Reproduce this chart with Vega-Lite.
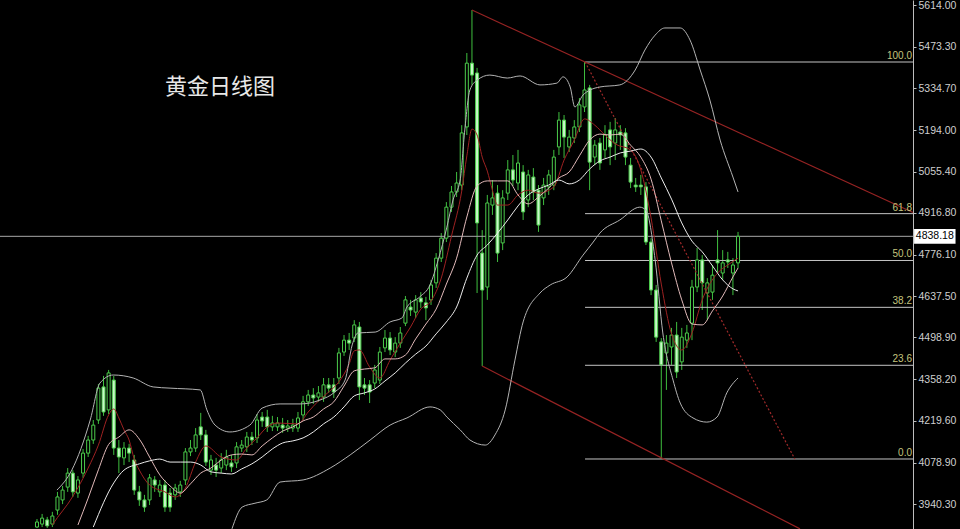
{
"$schema":"https://vega.github.io/schema/vega-lite/v6.json",
"width":913,"height":529,
"autosize":{"type":"none"},
"padding":{"left":0,"top":0,"right":47,"bottom":0},
"background":"#000000",
"config":{"view":{"stroke":null},"axis":{"grid":false},
"axisY":{"orient":"right","title":null,"labelColor":"#cfcfcf","labelFont":"Liberation Sans","labelFontSize":10.5,"tickColor":"#bdbdbd","tickSize":3,"domainColor":"#bdbdbd","labelPadding":2,"grid":false}},
"datasets":{
"c":[
{"i":0,"o":3863,"h":3890,"l":3860,"c":3880},{"i":1,"o":3873,"h":3907,"l":3863,"c":3893},{"i":2,"o":3887,"h":3897,"l":3860,"c":3867},{"i":3,"o":3873,"h":3914,"l":3863,"c":3900},{"i":4,"o":3920,"h":3981,"l":3904,"c":3964},{"i":5,"o":3954,"h":4001,"l":3940,"c":3987},{"i":6,"o":3997,"h":4061,"l":3981,"c":4044},{"i":7,"o":4044,"h":4054,"l":3964,"c":3981},{"i":8,"o":3977,"h":4034,"l":3961,"c":4021},{"i":9,"o":4044,"h":4125,"l":4028,"c":4111},
{"i":10,"o":4111,"h":4169,"l":4098,"c":4155},{"i":11,"o":4155,"h":4222,"l":4142,"c":4205},{"i":12,"o":4222,"h":4343,"l":4209,"c":4329},{"i":13,"o":4333,"h":4370,"l":4236,"c":4249},{"i":14,"o":4256,"h":4390,"l":4242,"c":4380},{"i":15,"o":4356,"h":4370,"l":4105,"c":4128},{"i":16,"o":4128,"h":4155,"l":4044,"c":4098},{"i":17,"o":4095,"h":4148,"l":4071,"c":4128},{"i":18,"o":4128,"h":4142,"l":4081,"c":4111},{"i":19,"o":4088,"h":4105,"l":3971,"c":3987},
{"i":20,"o":3981,"h":4001,"l":3934,"c":3954},{"i":21,"o":3954,"h":3971,"l":3914,"c":3930},{"i":22,"o":3954,"h":4041,"l":3937,"c":4028},{"i":23,"o":4021,"h":4034,"l":3981,"c":4004},{"i":24,"o":3981,"h":4021,"l":3964,"c":4004},{"i":25,"o":4004,"h":4021,"l":3914,"c":3930},{"i":26,"o":3977,"h":3994,"l":3914,"c":3930},{"i":27,"o":3971,"h":4008,"l":3954,"c":3994},{"i":28,"o":3981,"h":4018,"l":3964,"c":4004},{"i":29,"o":4021,"h":4128,"l":4004,"c":4115},
{"i":30,"o":4115,"h":4155,"l":4101,"c":4128},{"i":31,"o":4128,"h":4195,"l":4115,"c":4172},{"i":32,"o":4199,"h":4246,"l":4155,"c":4172},{"i":33,"o":4172,"h":4189,"l":4068,"c":4081},{"i":34,"o":4054,"h":4105,"l":4038,"c":4088},{"i":35,"o":4071,"h":4095,"l":4031,"c":4054},{"i":36,"o":4061,"h":4111,"l":4044,"c":4088},{"i":37,"o":4071,"h":4122,"l":4054,"c":4098},{"i":38,"o":4078,"h":4105,"l":4048,"c":4065},{"i":39,"o":4078,"h":4148,"l":4061,"c":4132},
{"i":40,"o":4128,"h":4155,"l":4115,"c":4138},{"i":41,"o":4132,"h":4182,"l":4115,"c":4165},{"i":42,"o":4165,"h":4182,"l":4138,"c":4155},{"i":43,"o":4162,"h":4242,"l":4145,"c":4222},{"i":44,"o":4232,"h":4249,"l":4199,"c":4219},{"i":45,"o":4232,"h":4256,"l":4182,"c":4199},{"i":46,"o":4199,"h":4236,"l":4185,"c":4212},{"i":47,"o":4199,"h":4232,"l":4185,"c":4212},{"i":48,"o":4205,"h":4229,"l":4179,"c":4195},{"i":49,"o":4195,"h":4222,"l":4182,"c":4202},
{"i":50,"o":4195,"h":4226,"l":4182,"c":4205},{"i":51,"o":4195,"h":4249,"l":4182,"c":4229},{"i":52,"o":4239,"h":4303,"l":4222,"c":4283},{"i":53,"o":4283,"h":4323,"l":4269,"c":4306},{"i":54,"o":4306,"h":4329,"l":4276,"c":4296},{"i":55,"o":4299,"h":4336,"l":4283,"c":4313},{"i":56,"o":4299,"h":4363,"l":4283,"c":4340},{"i":57,"o":4340,"h":4363,"l":4313,"c":4329},{"i":58,"o":4340,"h":4363,"l":4296,"c":4316},{"i":59,"o":4363,"h":4464,"l":4343,"c":4447},
{"i":60,"o":4450,"h":4507,"l":4437,"c":4490},{"i":61,"o":4490,"h":4514,"l":4457,"c":4480},{"i":62,"o":4497,"h":4557,"l":4484,"c":4541},{"i":63,"o":4534,"h":4551,"l":4289,"c":4333},{"i":64,"o":4340,"h":4363,"l":4306,"c":4329},{"i":65,"o":4340,"h":4356,"l":4279,"c":4316},{"i":66,"o":4346,"h":4407,"l":4329,"c":4390},{"i":67,"o":4356,"h":4467,"l":4343,"c":4450},{"i":68,"o":4464,"h":4524,"l":4450,"c":4497},{"i":69,"o":4497,"h":4517,"l":4440,"c":4457},
{"i":70,"o":4450,"h":4500,"l":4433,"c":4480},{"i":71,"o":4480,"h":4534,"l":4464,"c":4514},{"i":72,"o":4547,"h":4638,"l":4537,"c":4625},{"i":73,"o":4601,"h":4625,"l":4571,"c":4591},{"i":74,"o":4584,"h":4641,"l":4564,"c":4625},{"i":75,"o":4631,"h":4651,"l":4598,"c":4618},{"i":76,"o":4615,"h":4635,"l":4557,"c":4598},{"i":77,"o":4625,"h":4692,"l":4608,"c":4675},{"i":78,"o":4682,"h":4782,"l":4665,"c":4765},{"i":79,"o":4765,"h":4849,"l":4752,"c":4832},
{"i":80,"o":4832,"h":4953,"l":4819,"c":4936},{"i":81,"o":4936,"h":5007,"l":4920,"c":4987},{"i":82,"o":4987,"h":5054,"l":4970,"c":5017},{"i":83,"o":5010,"h":5211,"l":4993,"c":5185},{"i":84,"o":5205,"h":5453,"l":5178,"c":5419},{"i":85,"o":5419,"h":5597,"l":5346,"c":5379},{"i":86,"o":5386,"h":5403,"l":4648,"c":4883},{"i":87,"o":4782,"h":4859,"l":4403,"c":4658},{"i":88,"o":4668,"h":4977,"l":4625,"c":4950},{"i":89,"o":4943,"h":5027,"l":4910,"c":4967},
{"i":90,"o":4983,"h":5010,"l":4752,"c":4782},{"i":91,"o":4816,"h":4993,"l":4792,"c":4967},{"i":92,"o":4983,"h":5094,"l":4960,"c":5061},{"i":93,"o":5061,"h":5111,"l":5007,"c":5027},{"i":94,"o":5017,"h":5128,"l":4993,"c":5084},{"i":95,"o":5054,"h":5077,"l":4893,"c":4920},{"i":96,"o":4960,"h":5061,"l":4936,"c":5044},{"i":97,"o":5037,"h":5067,"l":4960,"c":4987},{"i":98,"o":4993,"h":5010,"l":4853,"c":4876},{"i":99,"o":4967,"h":5034,"l":4943,"c":5010},
{"i":100,"o":5004,"h":5061,"l":4977,"c":5044},{"i":101,"o":5010,"h":5128,"l":4993,"c":5104},{"i":102,"o":5138,"h":5255,"l":5111,"c":5228},{"i":103,"o":5228,"h":5245,"l":5101,"c":5171},{"i":104,"o":5138,"h":5195,"l":5121,"c":5171},{"i":105,"o":5168,"h":5228,"l":5151,"c":5205},{"i":106,"o":5205,"h":5302,"l":5188,"c":5279},{"i":107,"o":5272,"h":5423,"l":5255,"c":5329},{"i":108,"o":5336,"h":5346,"l":4993,"c":5087},{"i":109,"o":5104,"h":5161,"l":5077,"c":5144},
{"i":110,"o":5151,"h":5168,"l":5061,"c":5084},{"i":111,"o":5128,"h":5211,"l":5101,"c":5178},{"i":112,"o":5195,"h":5222,"l":5077,"c":5138},{"i":113,"o":5151,"h":5235,"l":5094,"c":5195},{"i":114,"o":5188,"h":5211,"l":5128,"c":5178},{"i":115,"o":5185,"h":5201,"l":5077,"c":5104},{"i":116,"o":5077,"h":5101,"l":5000,"c":5020},{"i":117,"o":5010,"h":5034,"l":4987,"c":5004},{"i":118,"o":5010,"h":5044,"l":4977,"c":5004},{"i":119,"o":5004,"h":5020,"l":4809,"c":4819},
{"i":120,"o":4819,"h":4832,"l":4641,"c":4658},{"i":121,"o":4658,"h":4675,"l":4484,"c":4500},{"i":122,"o":4484,"h":4497,"l":4091,"c":4407},{"i":123,"o":4447,"h":4507,"l":4323,"c":4480},{"i":124,"o":4467,"h":4531,"l":4407,"c":4507},{"i":125,"o":4507,"h":4551,"l":4363,"c":4383},{"i":126,"o":4417,"h":4531,"l":4390,"c":4500},{"i":127,"o":4490,"h":4541,"l":4464,"c":4514},{"i":128,"o":4547,"h":4692,"l":4490,"c":4668},{"i":129,"o":4668,"h":4799,"l":4651,"c":4759},
{"i":130,"o":4759,"h":4775,"l":4591,"c":4682},{"i":131,"o":4648,"h":4698,"l":4557,"c":4682},{"i":132,"o":4651,"h":4742,"l":4625,"c":4708},{"i":133,"o":4759,"h":4859,"l":4718,"c":4749},{"i":134,"o":4715,"h":4792,"l":4692,"c":4749},{"i":135,"o":4759,"h":4786,"l":4732,"c":4752},{"i":136,"o":4715,"h":4765,"l":4641,"c":4742},{"i":137,"o":4749,"h":4853,"l":4732,"c":4838.18}
],
"m":[
{"s":"ma5","i":3,"p":3870},{"s":"ma5","i":4,"p":3895},{"s":"ma5","i":6,"p":3940},{"s":"ma5","i":8,"p":3995},{"s":"ma5","i":10,"p":4061},{"s":"ma5","i":12,"p":4138},{"s":"ma5","i":14,"p":4239},{"s":"ma5","i":15,"p":4259},{"s":"ma5","i":16,"p":4229},{"s":"ma5","i":17,"p":4189},{"s":"ma5","i":18,"p":4155},{"s":"ma5","i":19,"p":4091},{"s":"ma5","i":20,"p":4054},{"s":"ma5","i":22,"p":4004},{"s":"ma5","i":25,"p":3981},{"s":"ma5","i":27,"p":3964},{"s":"ma5","i":29,"p":3994},{"s":"ma5","i":31,"p":4081},{"s":"ma5","i":33,"p":4135},{"s":"ma5","i":36,"p":4098},{"s":"ma5","i":39,"p":4088},{"s":"ma5","i":41,"p":4128},{"s":"ma5","i":43,"p":4162},{"s":"ma5","i":45,"p":4199},{"s":"ma5","i":47,"p":4212},{"s":"ma5","i":51,"p":4209},{"s":"ma5","i":53,"p":4249},{"s":"ma5","i":55,"p":4286},{"s":"ma5","i":57,"p":4316},{"s":"ma5","i":59,"p":4350},{"s":"ma5","i":61,"p":4410},{"s":"ma5","i":62,"p":4454},{"s":"ma5","i":63,"p":4457},{"s":"ma5","i":65,"p":4400},{"s":"ma5","i":67,"p":4363},{"s":"ma5","i":69,"p":4423},{"s":"ma5","i":71,"p":4480},{"s":"ma5","i":73,"p":4534},{"s":"ma5","i":75,"p":4594},{"s":"ma5","i":77,"p":4621},{"s":"ma5","i":79,"p":4698},{"s":"ma5","i":81,"p":4839},{"s":"ma5","i":83,"p":4990},{"s":"ma5","i":84,"p":5108},{"s":"ma5","i":85,"p":5198},{"s":"ma5","i":86,"p":5178},{"s":"ma5","i":87,"p":5104},{"s":"ma5","i":88,"p":5057},{"s":"ma5","i":89,"p":4993},{"s":"ma5","i":90,"p":4943},{"s":"ma5","i":92,"p":4943},{"s":"ma5","i":94,"p":4977},{"s":"ma5","i":96,"p":4993},{"s":"ma5","i":98,"p":4983},{"s":"ma5","i":101,"p":5004},{"s":"ma5","i":103,"p":5094},{"s":"ma5","i":105,"p":5161},{"s":"ma5","i":107,"p":5232},{"s":"ma5","i":109,"p":5211},{"s":"ma5","i":111,"p":5178},{"s":"ma5","i":113,"p":5148},{"s":"ma5","i":116,"p":5128},{"s":"ma5","i":118,"p":5061},{"s":"ma5","i":120,"p":4900},{"s":"ma5","i":122,"p":4678},{"s":"ma5","i":124,"p":4511},{"s":"ma5","i":126,"p":4457},{"s":"ma5","i":128,"p":4514},{"s":"ma5","i":130,"p":4625},{"s":"ma5","i":133,"p":4715},{"s":"ma5","i":135,"p":4742},{"s":"ma5","i":137,"p":4765},
{"s":"ma10","i":8,"p":3870},{"s":"ma10","i":10,"p":3960},{"s":"ma10","i":12,"p":4055},{"s":"ma10","i":14,"p":4140},{"s":"ma10","i":16,"p":4165},{"s":"ma10","i":18,"p":4189},{"s":"ma10","i":20,"p":4158},{"s":"ma10","i":22,"p":4098},{"s":"ma10","i":24,"p":4038},{"s":"ma10","i":26,"p":4001},{"s":"ma10","i":28,"p":3977},{"s":"ma10","i":30,"p":4008},{"s":"ma10","i":32,"p":4044},{"s":"ma10","i":34,"p":4061},{"s":"ma10","i":36,"p":4088},{"s":"ma10","i":38,"p":4105},{"s":"ma10","i":40,"p":4108},{"s":"ma10","i":42,"p":4105},{"s":"ma10","i":44,"p":4135},{"s":"ma10","i":46,"p":4162},{"s":"ma10","i":48,"p":4185},{"s":"ma10","i":50,"p":4199},{"s":"ma10","i":52,"p":4219},{"s":"ma10","i":54,"p":4232},{"s":"ma10","i":56,"p":4259},{"s":"ma10","i":58,"p":4283},{"s":"ma10","i":60,"p":4336},{"s":"ma10","i":62,"p":4387},{"s":"ma10","i":64,"p":4393},{"s":"ma10","i":66,"p":4397},{"s":"ma10","i":68,"p":4427},{"s":"ma10","i":70,"p":4427},{"s":"ma10","i":72,"p":4440},{"s":"ma10","i":74,"p":4494},{"s":"ma10","i":76,"p":4544},{"s":"ma10","i":78,"p":4594},{"s":"ma10","i":80,"p":4678},{"s":"ma10","i":82,"p":4765},{"s":"ma10","i":84,"p":4903},{"s":"ma10","i":86,"p":5007},{"s":"ma10","i":88,"p":5024},{"s":"ma10","i":90,"p":5024},{"s":"ma10","i":92,"p":5024},{"s":"ma10","i":94,"p":4977},{"s":"ma10","i":96,"p":4947},{"s":"ma10","i":98,"p":4970},{"s":"ma10","i":100,"p":5000},{"s":"ma10","i":102,"p":5034},{"s":"ma10","i":104,"p":5054},{"s":"ma10","i":106,"p":5108},{"s":"ma10","i":108,"p":5161},{"s":"ma10","i":110,"p":5181},{"s":"ma10","i":112,"p":5178},{"s":"ma10","i":114,"p":5181},{"s":"ma10","i":116,"p":5144},{"s":"ma10","i":118,"p":5104},{"s":"ma10","i":120,"p":5030},{"s":"ma10","i":122,"p":4890},{"s":"ma10","i":124,"p":4749},{"s":"ma10","i":126,"p":4625},{"s":"ma10","i":128,"p":4544},{"s":"ma10","i":130,"p":4541},{"s":"ma10","i":132,"p":4588},{"s":"ma10","i":134,"p":4638},{"s":"ma10","i":136,"p":4702},{"s":"ma10","i":137,"p":4732},
{"s":"ma20","i":11,"p":3863},{"s":"ma20","i":15,"p":4011},{"s":"ma20","i":17,"p":4054},{"s":"ma20","i":20,"p":4075},{"s":"ma20","i":22,"p":4085},{"s":"ma20","i":24,"p":4091},{"s":"ma20","i":26,"p":4081},{"s":"ma20","i":28,"p":4081},{"s":"ma20","i":30,"p":4081},{"s":"ma20","i":32,"p":4071},{"s":"ma20","i":34,"p":4048},{"s":"ma20","i":36,"p":4044},{"s":"ma20","i":38,"p":4041},{"s":"ma20","i":40,"p":4058},{"s":"ma20","i":42,"p":4075},{"s":"ma20","i":44,"p":4098},{"s":"ma20","i":46,"p":4125},{"s":"ma20","i":48,"p":4145},{"s":"ma20","i":50,"p":4152},{"s":"ma20","i":52,"p":4162},{"s":"ma20","i":54,"p":4182},{"s":"ma20","i":56,"p":4209},{"s":"ma20","i":58,"p":4232},{"s":"ma20","i":60,"p":4266},{"s":"ma20","i":62,"p":4303},{"s":"ma20","i":64,"p":4313},{"s":"ma20","i":66,"p":4326},{"s":"ma20","i":68,"p":4353},{"s":"ma20","i":70,"p":4380},{"s":"ma20","i":72,"p":4413},{"s":"ma20","i":74,"p":4443},{"s":"ma20","i":76,"p":4470},{"s":"ma20","i":78,"p":4511},{"s":"ma20","i":80,"p":4551},{"s":"ma20","i":82,"p":4601},{"s":"ma20","i":84,"p":4698},{"s":"ma20","i":86,"p":4775},{"s":"ma20","i":88,"p":4809},{"s":"ma20","i":90,"p":4849},{"s":"ma20","i":92,"p":4893},{"s":"ma20","i":94,"p":4940},{"s":"ma20","i":96,"p":4977},{"s":"ma20","i":98,"p":4997},{"s":"ma20","i":100,"p":5010},{"s":"ma20","i":102,"p":5027},{"s":"ma20","i":104,"p":5014},{"s":"ma20","i":106,"p":5027},{"s":"ma20","i":108,"p":5064},{"s":"ma20","i":110,"p":5091},{"s":"ma20","i":112,"p":5104},{"s":"ma20","i":114,"p":5118},{"s":"ma20","i":116,"p":5124},{"s":"ma20","i":118,"p":5131},{"s":"ma20","i":120,"p":5104},{"s":"ma20","i":122,"p":5034},{"s":"ma20","i":124,"p":4963},{"s":"ma20","i":126,"p":4883},{"s":"ma20","i":128,"p":4822},{"s":"ma20","i":130,"p":4786},{"s":"ma20","i":132,"p":4739},{"s":"ma20","i":134,"p":4692},{"s":"ma20","i":136,"p":4662},{"s":"ma20","i":137,"p":4655},
{"s":"bbu","i":3.9,"p":3987},{"s":"bbu","i":6.8,"p":4054},{"s":"bbu","i":10.4,"p":4222},{"s":"bbu","i":12.3,"p":4346},{"s":"bbu","i":14.9,"p":4373},{"s":"bbu","i":18.8,"p":4363},{"s":"bbu","i":22.7,"p":4333},{"s":"bbu","i":26.0,"p":4329},{"s":"bbu","i":31.9,"p":4323},{"s":"bbu","i":33.2,"p":4256},{"s":"bbu","i":34.8,"p":4205},{"s":"bbu","i":37.7,"p":4182},{"s":"bbu","i":41.6,"p":4205},{"s":"bbu","i":44.0,"p":4262},{"s":"bbu","i":47.5,"p":4276},{"s":"bbu","i":51.4,"p":4276},{"s":"bbu","i":55.3,"p":4289},{"s":"bbu","i":58.2,"p":4316},{"s":"bbu","i":60.2,"p":4356},{"s":"bbu","i":61.6,"p":4474},{"s":"bbu","i":62.7,"p":4514},{"s":"bbu","i":66.1,"p":4517},{"s":"bbu","i":69.0,"p":4551},{"s":"bbu","i":71.3,"p":4564},{"s":"bbu","i":72.3,"p":4601},{"s":"bbu","i":74.8,"p":4635},{"s":"bbu","i":76.8,"p":4675},{"s":"bbu","i":78.4,"p":4759},{"s":"bbu","i":80.1,"p":4869},{"s":"bbu","i":81.3,"p":4960},{"s":"bbu","i":82.7,"p":5027},{"s":"bbu","i":83.6,"p":5195},{"s":"bbu","i":84.6,"p":5329},{"s":"bbu","i":86.0,"p":5362},{"s":"bbu","i":88.5,"p":5379},{"s":"bbu","i":91.9,"p":5369},{"s":"bbu","i":94.4,"p":5376},{"s":"bbu","i":98.3,"p":5346},{"s":"bbu","i":101.6,"p":5352},{"s":"bbu","i":102.8,"p":5373},{"s":"bbu","i":104.2,"p":5339},{"s":"bbu","i":105.1,"p":5272},{"s":"bbu","i":106.7,"p":5312},{"s":"bbu","i":108.1,"p":5329},{"s":"bbu","i":110.0,"p":5339},{"s":"bbu","i":113.9,"p":5346},{"s":"bbu","i":116.9,"p":5396},{"s":"bbu","i":118.8,"p":5463},{"s":"bbu","i":120.8,"p":5513},{"s":"bbu","i":122.7,"p":5537},{"s":"bbu","i":125.7,"p":5537},{"s":"bbu","i":127.6,"p":5497},{"s":"bbu","i":129.6,"p":5396},{"s":"bbu","i":131.5,"p":5295},{"s":"bbu","i":133.5,"p":5161},{"s":"bbu","i":136.0,"p":5037},{"s":"bbu","i":137.0,"p":4987},
{"s":"bbl","i":38.1,"p":3857},{"s":"bbl","i":40.1,"p":3930},{"s":"bbl","i":42.6,"p":3943},{"s":"bbl","i":44.9,"p":3954},{"s":"bbl","i":47.5,"p":4014},{"s":"bbl","i":52.0,"p":4021},{"s":"bbl","i":57.3,"p":4061},{"s":"bbl","i":61.2,"p":4105},{"s":"bbl","i":65.1,"p":4155},{"s":"bbl","i":69.0,"p":4205},{"s":"bbl","i":72.3,"p":4229},{"s":"bbl","i":76.8,"p":4266},{"s":"bbl","i":78.8,"p":4256},{"s":"bbl","i":80.1,"p":4232},{"s":"bbl","i":82.7,"p":4189},{"s":"bbl","i":84.6,"p":4155},{"s":"bbl","i":87.6,"p":4138},{"s":"bbl","i":89.5,"p":4172},{"s":"bbl","i":91.5,"p":4256},{"s":"bbl","i":93.4,"p":4423},{"s":"bbl","i":95.0,"p":4551},{"s":"bbl","i":98.3,"p":4648},{"s":"bbl","i":100.3,"p":4675},{"s":"bbl","i":103.6,"p":4702},{"s":"bbl","i":106.7,"p":4775},{"s":"bbl","i":108.7,"p":4819},{"s":"bbl","i":110.0,"p":4849},{"s":"bbl","i":113.9,"p":4893},{"s":"bbl","i":117.8,"p":4936},{"s":"bbl","i":119.0,"p":4926},{"s":"bbl","i":120.8,"p":4759},{"s":"bbl","i":122.3,"p":4514},{"s":"bbl","i":124.3,"p":4356},{"s":"bbl","i":125.7,"p":4279},{"s":"bbl","i":128.2,"p":4229},{"s":"bbl","i":130.9,"p":4215},{"s":"bbl","i":132.9,"p":4232},{"s":"bbl","i":134.8,"p":4313},{"s":"bbl","i":137.0,"p":4363}
],
"ch":[
{"s":"up","i":85.0,"p":5597},{"s":"up","i":171.2,"p":4918},
{"s":"lo","i":87.0,"p":4403},{"s":"lo","i":149.1,"p":3857},
{"s":"fib","i":107.1,"p":5423},{"s":"fib","i":148.1,"p":4091}
],
"f":[
{"lv":"100.0","p":5422.8},{"lv":"61.8","p":4914.2},{"lv":"50.0","p":4757.1},{"lv":"38.2","p":4600.0},{"lv":"23.6","p":4405.6},{"lv":"0.0","p":4091.3}
]
},
"layer":[
{"data":{"name":"c"},"mark":{"type":"rule","color":"#3fbf3f","strokeWidth":1},
 "encoding":{"x":{"field":"i","type":"quantitative","scale":{"domain":[-7.23,171.19],"nice":false,"zero":false,"padding":0},"axis":null},
 "y":{"field":"l","type":"quantitative","title":null,"scale":{"domain":[3856.5,5630.8],"nice":false,"zero":false},
 "axis":{"orient":"right","title":null,"values":[5614.0,5473.3,5334.7,5194.0,5055.4,4916.8,4776.1,4637.5,4498.9,4358.2,4219.6,4078.9,3940.3],"format":".2f"}},
 "y2":{"field":"h"}}},
{"data":{"name":"f"},"mark":{"type":"rule","color":"#c4c4c4","strokeWidth":1},
 "encoding":{"x":{"datum":107.1,"type":"quantitative","axis":null},"x2":{"datum":171.19},
 "y":{"field":"p","type":"quantitative","title":null}}},
{"data":{"values":[{"p":4838.18}]},"mark":{"type":"rule","color":"#a8a8a8","strokeWidth":1},
 "encoding":{"y":{"field":"p","type":"quantitative","title":null}}},
{"data":{"name":"c"},"mark":{"type":"bar","width":3,"stroke":"#4ccc4c","strokeWidth":1},
 "encoding":{"x":{"field":"i","type":"quantitative","axis":null},"y":{"field":"o","type":"quantitative","title":null},"y2":{"field":"c"},
 "fill":{"condition":{"test":"datum.c < datum.o","value":"#c8f7c8"},"value":"#000000"}}},
{"data":{"name":"ch"},"transform":[{"filter":"datum.s != 'fib'"}],"mark":{"type":"line","color":"#962323","strokeWidth":1.2},
 "encoding":{"x":{"field":"i","type":"quantitative","axis":null},"y":{"field":"p","type":"quantitative","title":null},"detail":{"field":"s"}}},
{"data":{"name":"ch"},"transform":[{"filter":"datum.s == 'fib'"}],"mark":{"type":"line","color":"#a02a2a","strokeWidth":1.2,"strokeDash":[2,2]},
 "encoding":{"x":{"field":"i","type":"quantitative","axis":null},"y":{"field":"p","type":"quantitative","title":null}}},
{"data":{"name":"m"},"mark":{"type":"line","strokeWidth":1,"interpolate":"monotone"},
 "encoding":{"x":{"field":"i","type":"quantitative","axis":null},"y":{"field":"p","type":"quantitative","title":null},
 "color":{"field":"s","type":"nominal","legend":null,"scale":{"domain":["ma5","ma10","ma20","bbu","bbl"],"range":["#9e2222","#e2baba","#ececec","#b4b4b4","#b4b4b4"]}}}},
{"data":{"name":"f"},"mark":{"type":"text","align":"right","baseline":"bottom","dx":-1,"dy":-1,"font":"Liberation Sans","fontSize":10,"color":"#c4c47e"},
 "encoding":{"x":{"datum":171.19,"type":"quantitative","axis":null},"y":{"field":"p","type":"quantitative","title":null},"text":{"field":"lv"}}},
{"data":{"values":[{"t":"黄金日线图"}]},"mark":{"type":"text","align":"left","baseline":"middle","font":"Noto Sans CJK SC","fontSize":22,"color":"#e8e8e8"},
 "encoding":{"x":{"datum":25.0,"type":"quantitative","axis":null},"y":{"datum":5339,"type":"quantitative","title":null},"text":{"field":"t"}}},
{"data":{"values":[{"t":"4838.18"}]},"mark":{"type":"rect","color":"#ffffff"},
 "encoding":{"x":{"datum":171.4,"type":"quantitative","axis":null},"x2":{"datum":179.5},"y":{"datum":4862.5,"type":"quantitative","title":null},"y2":{"datum":4813.5}}},
{"data":{"values":[{"t":"4838.18"}]},"mark":{"type":"text","align":"center","baseline":"middle","font":"Liberation Sans","fontSize":10.5,"color":"#000000"},
 "encoding":{"x":{"datum":175.45,"type":"quantitative","axis":null},"y":{"datum":4838.18,"type":"quantitative","title":null},"text":{"field":"t"}}}
]
}
